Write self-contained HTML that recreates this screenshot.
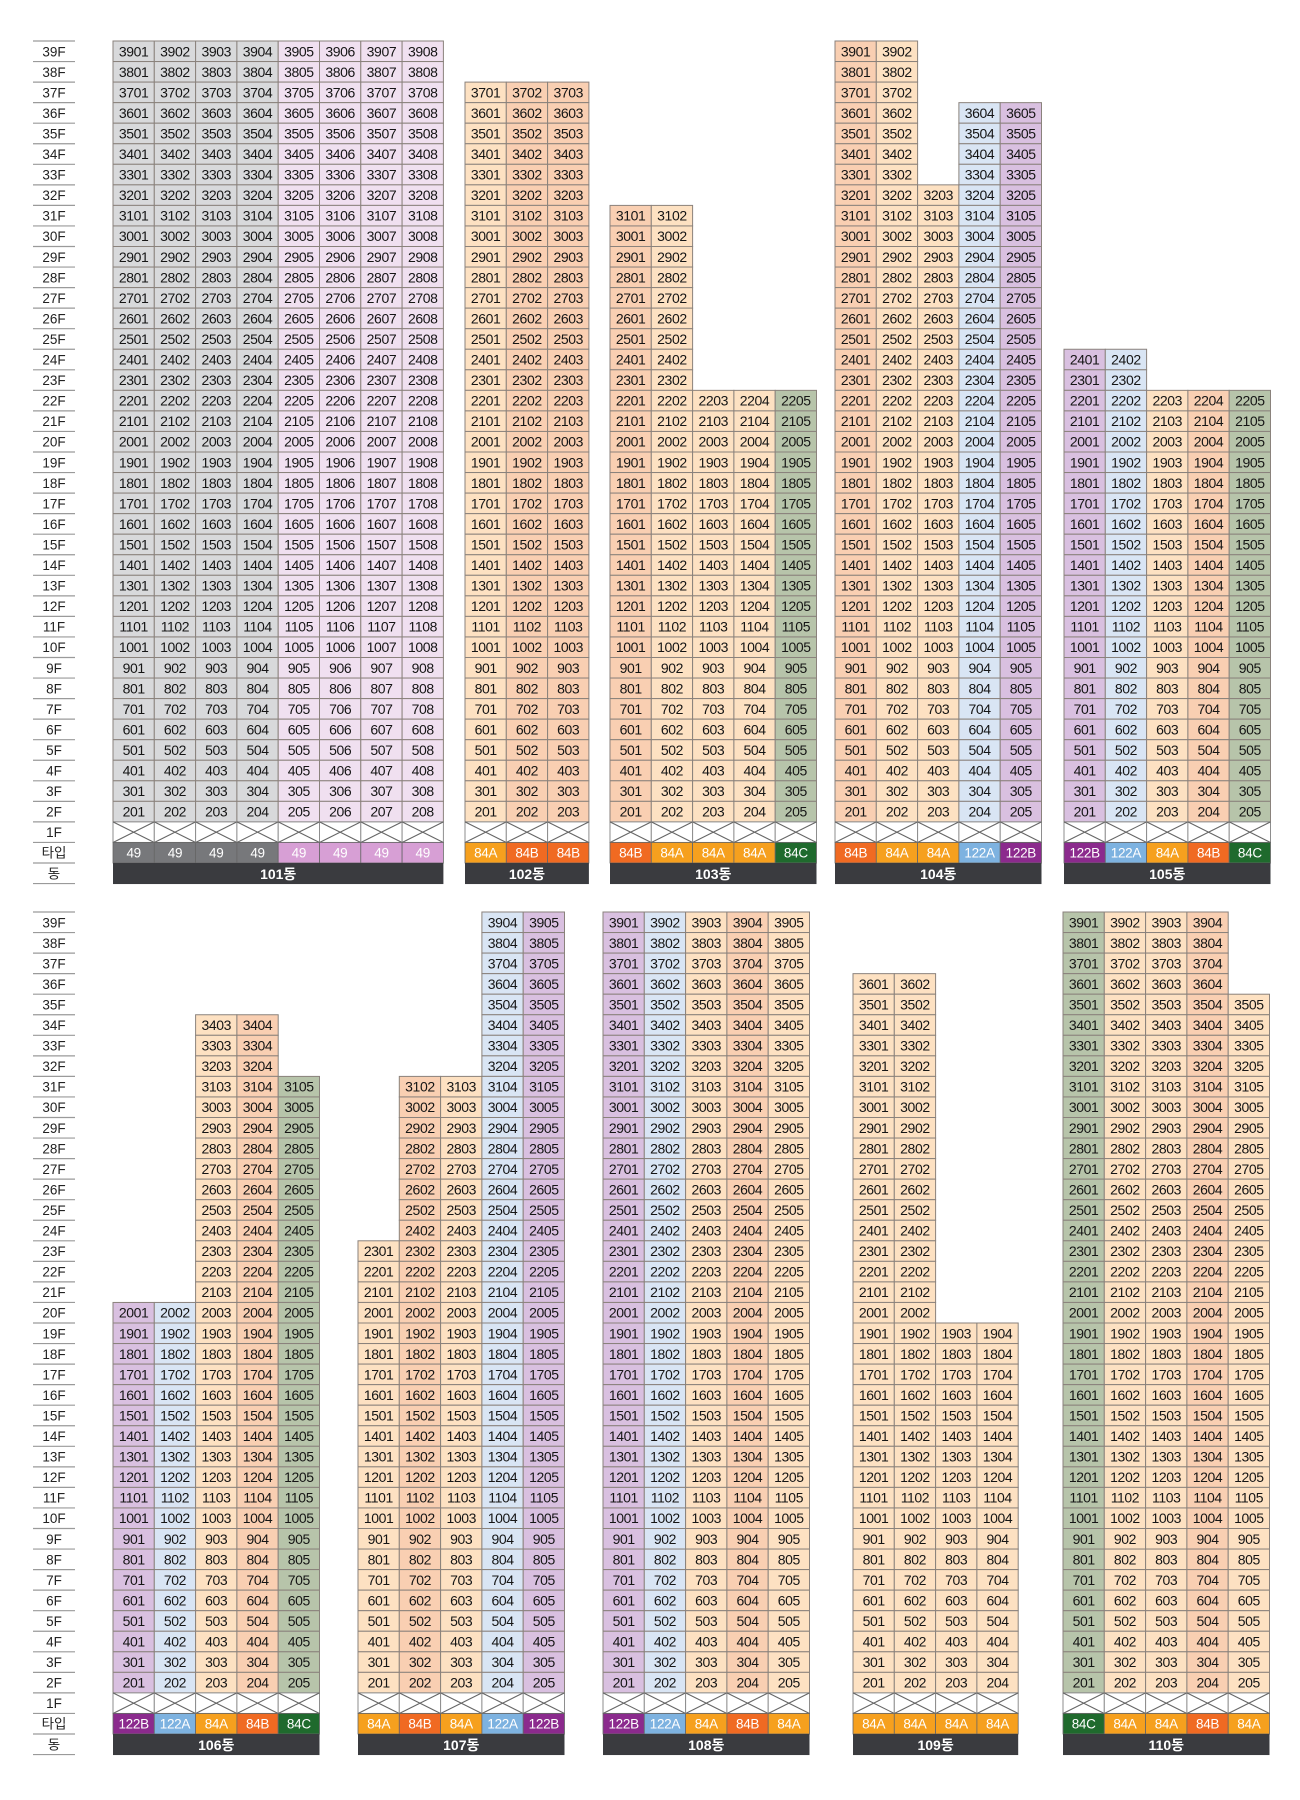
<!DOCTYPE html>
<html><head><meta charset="utf-8">
<style>
html,body{margin:0;padding:0;background:#fff;}
svg{display:block;}
text{font-family:"Liberation Sans","Noto Sans CJK KR",sans-serif;}
</style></head>
<body>
<svg id="chart" width="1300" height="1800" viewBox="0 0 1300 1800" xmlns="http://www.w3.org/2000/svg"></svg>
<script>
// ---- data ----
const buildingNames = ["101동","102동","103동","104동","105동","106동","107동","108동","109동","110동"];
const buildingTops = [
  [39,39,39,39,39,39,39,39],
  [37,37,37],
  [31,31,22,22,22],
  [39,39,32,36,36],
  [24,24,22,22,22],
  [20,20,34,34,31],
  [23,31,31,39,39],
  [39,39,39,39,39],
  [36,36,19,19],
  [39,39,39,39,35]
];
const buildingTypes = [
  ["49g","49g","49g","49g","49p","49p","49p","49p"],
  ["84A","84B","84B"],
  ["84B","84A","84A","84A","84C"],
  ["84B","84A","84A","122A","122B"],
  ["122B","122A","84A","84B","84C"],
  ["122B","122A","84A","84B","84C"],
  ["84A","84B","84A","122A","122B"],
  ["122B","122A","84A","84B","84A"],
  ["84A","84A","84A","84A"],
  ["84C","84A","84A","84B","84A"]
];
const floorLabels = ["39F","38F","37F","36F","35F","34F","33F","32F","31F","30F","29F","28F","27F","26F","25F","24F","23F","22F","21F","20F","19F","18F","17F","16F","15F","14F","13F","12F","11F","10F","9F","8F","7F","6F","5F","4F","3F","2F","1F","타입","동"];

// ---- layout ----
const startX = [113,465,610,835,1064,113,358,603,853,1063];
const sectionOf = [0,0,0,0,0,1,1,1,1,1];
const sectionTop = [41,912];
const RH = 20.55, CW = 41.3;
const cellFill = {"49g":"#d8d9db","49p":"#f0e0f0","84A":"#fde1c2","84B":"#f9cfb2","84C":"#b7c4aa","122A":"#d9e5f4","122B":"#d9c0e0"};
const typeFill = {"49g":"#77787b","49p":"#d79fd5","84A":"#f6a01e","84B":"#f06a22","84C":"#1f6a2d","122A":"#7db2e0","122B":"#8b2a8d"};
const NS = "http://www.w3.org/2000/svg";
const svg = document.getElementById("chart");
function mk(tag, attrs, parent){const e=document.createElementNS(NS,tag);for(const k in attrs)e.setAttribute(k,attrs[k]);(parent||svg).appendChild(e);return e;}
function yRow(sec, idx){return sectionTop[sec] + idx*RH;}

// floor label columns
for (let s=0;s<2;s++){
  const g = mk("g",{});
  
  
  for (let i=0;i<=floorLabels.length;i++){
    mk("line",{x1:33,x2:75,y1:yRow(s,i),y2:yRow(s,i),stroke:"#9a9a9a","stroke-width":1.2},g);
  }
  floorLabels.forEach((lb,i)=>{
    const t = mk("text",{x:54,y:yRow(s,i)+RH/2+5,"text-anchor":"middle","font-size":13.5,fill:"#222"},g);
    
    
    t.textContent = lb;
  });
}

// buildings
buildingNames.forEach((name,b)=>{
  const sec = sectionOf[b];
  const x0 = startX[b];
  const tops = buildingTops[b], types = buildingTypes[b];
  const g = mk("g",{});
  
  
  tops.forEach((top,c)=>{
    const x = x0 + c*CW;
    for (let f=top; f>=2; f--){
      const y = yRow(sec, 39-f);
      const r = mk("rect",{x:x,y:y,width:CW,height:RH,fill:cellFill[types[c]],stroke:"#8a827c","stroke-width":1},g);
      
      
      const t = mk("text",{x:x+CW/2,y:y+RH/2+5,"text-anchor":"middle","font-size":14,fill:"#151515","letter-spacing":"-0.4"},g);
      
      
      t.textContent = String(f*100 + c + 1);
    }
    // 1F pilotis
    const y1 = yRow(sec,38);
    const p = mk("rect",{x:x,y:y1,width:CW,height:RH,fill:"#fff",stroke:"#8e8e8e","stroke-width":1},g);
    
    
    mk("line",{x1:x,y1:y1,x2:x+CW,y2:y1+RH,stroke:"#666","stroke-width":1.1},g);
    mk("line",{x1:x,y1:y1+RH,x2:x+CW,y2:y1,stroke:"#666","stroke-width":1.1},g);
    // type
    const yt = yRow(sec,39);
    const tr = mk("rect",{x:x,y:yt,width:CW,height:RH,fill:typeFill[types[c]],stroke:"#666","stroke-width":0.8},g);
    
    
    const tt = mk("text",{x:x+CW/2,y:yt+RH/2+5,"text-anchor":"middle","font-size":13.5,fill:"#fff","letter-spacing":"-0.3"},g);
    
    
    tt.textContent = types[c].replace(/g$|p$/,'');
  });
  const yd = yRow(sec,40);
  const w = tops.length*CW;
  const dr = mk("rect",{x:x0,y:yd,width:w,height:RH+0.5,fill:"#3a3b3f"},g);
  
  
  const dt = mk("text",{x:x0+w/2,y:yd+RH/2+5.5,"text-anchor":"middle","font-size":14,"font-weight":"bold",fill:"#fff"},g);
  
  
  dt.textContent = name;
});
</script>
</body></html>
